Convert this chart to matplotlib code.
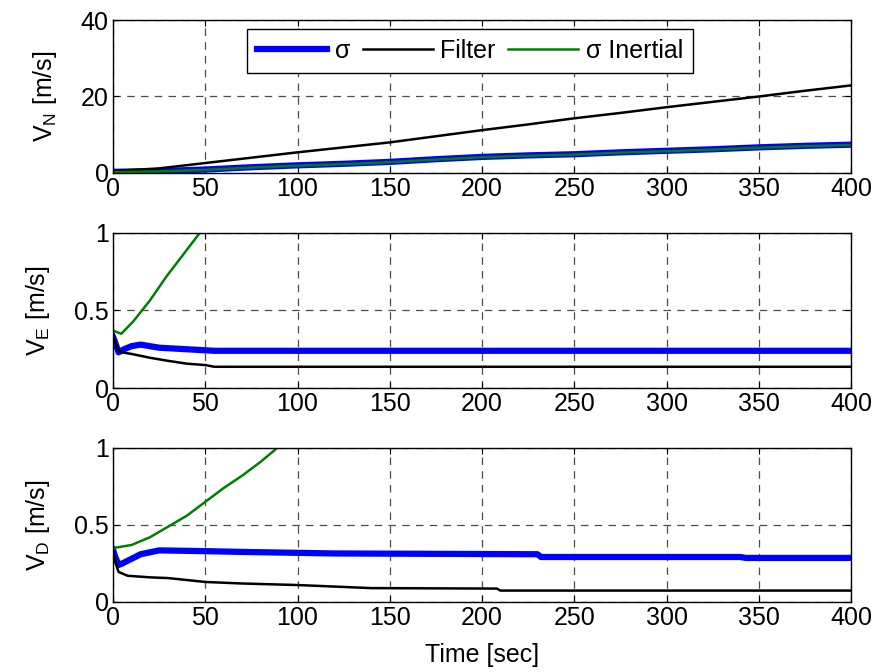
import matplotlib
matplotlib.use("Agg")
import matplotlib.pyplot as plt

plt.rcParams['font.family'] = ['Liberation Sans', 'DejaVu Sans']
plt.rcParams['mathtext.default'] = 'regular'

# ---- data ----
# North velocity panel
t_n = [0, 25, 50, 75, 100, 125, 150, 175, 200, 225, 250, 275, 300, 325, 350, 375, 400]
vn_filter = [0.5, 1.2, 2.6, 4.0, 5.4, 6.7, 8.0, 9.6, 11.2, 12.7, 14.3, 15.7, 17.2, 18.6, 20.0, 21.5, 22.9]
vn_sigma = [0.3, 0.5, 0.9, 1.5, 2.0, 2.4, 2.9, 3.6, 4.2, 4.6, 4.9, 5.4, 5.8, 6.2, 6.7, 7.1, 7.4]
vn_inertial = [0.2, 0.4, 0.8, 1.4, 1.9, 2.3, 2.8, 3.5, 4.1, 4.5, 4.8, 5.3, 5.7, 6.1, 6.6, 7.0, 7.3]

# East velocity panel
t_e_sigma = [0, 1, 3, 6, 10, 15, 25, 40, 55, 400]
ve_sigma = [0.33, 0.30, 0.23, 0.25, 0.27, 0.28, 0.26, 0.25, 0.24, 0.24]
t_e_filter = [0, 1, 3, 5, 10, 20, 30, 40, 50, 55, 400]
ve_filter = [0.34, 0.30, 0.24, 0.23, 0.22, 0.195, 0.175, 0.157, 0.148, 0.137, 0.137]
t_e_inertial = [0, 4.5, 11, 20, 29, 38, 47, 50]
ve_inertial = [0.37, 0.35, 0.43, 0.565, 0.72, 0.86, 1.0, 1.05]

# Down velocity panel
t_d_sigma = [0, 1, 3, 5, 10, 15, 25, 50, 70, 120, 230, 232, 340, 343, 400]
vd_sigma = [0.34, 0.30, 0.24, 0.25, 0.28, 0.31, 0.335, 0.33, 0.325, 0.315, 0.31, 0.292, 0.292, 0.286, 0.286]
t_d_filter = [0, 1, 3, 8, 20, 30, 50, 70, 100, 120, 140, 208, 210, 400]
vd_filter = [0.33, 0.27, 0.195, 0.17, 0.16, 0.155, 0.13, 0.12, 0.11, 0.10, 0.09, 0.087, 0.074, 0.074]
t_d_inertial = [0, 10, 20, 30, 40, 50, 60, 70, 80, 89, 95]
vd_inertial = [0.35, 0.37, 0.42, 0.49, 0.56, 0.65, 0.74, 0.82, 0.91, 1.0, 1.06]

xticks = [0, 50, 100, 150, 200, 250, 300, 350, 400]
FS = 18

fig = plt.figure(figsize=(8.85, 6.72), dpi=100)
boxes = [(0.1277, 0.7426, 0.8339, 0.2276),
         (0.1277, 0.4226, 0.8339, 0.2307),
         (0.1277, 0.1042, 0.8339, 0.2292)]
axes = [fig.add_axes(b) for b in boxes]


def style(ax, ylim, yticks, ylabel):
    ax.set_xlim(0, 400)
    ax.set_ylim(*ylim)
    ax.set_xticks(xticks)
    ax.set_yticks(yticks)
    ax.grid(True, color='0.3', linestyle=(0, (6, 5)), linewidth=0.9)
    ax.tick_params(direction='in', top=True, right=True, labelsize=FS, length=4, pad=3)
    ax.set_ylabel(ylabel, fontsize=FS, labelpad=16)
    for s in ax.spines.values():
        s.set_linewidth(1.0)


ax = axes[0]
ax.plot(t_n, vn_sigma, color='blue', lw=4.5, label='σ')
ax.plot(t_n, vn_filter, color='black', lw=1.8, label='Filter')
ax.plot(t_n, vn_inertial, color='green', lw=1.8, label='σ Inertial')
style(ax, (0, 40), [0, 20, 40], 'V$_N$ [m/s]')
leg = ax.legend(loc='upper center', bbox_to_anchor=(0.484, 0.94), ncol=3, fontsize=FS,
                fancybox=False, edgecolor='black', framealpha=1,
                handlelength=2.8, handletextpad=0.3, columnspacing=0.5,
                borderpad=0.4, borderaxespad=0)
leg.get_frame().set_linewidth(1.0)

ax = axes[1]
ax.plot(t_e_sigma, ve_sigma, color='blue', lw=4.5)
ax.plot(t_e_filter, ve_filter, color='black', lw=1.8)
ax.plot(t_e_inertial, ve_inertial, color='green', lw=1.8)
style(ax, (0, 1), [0, 0.5, 1], 'V$_E$ [m/s]')
ax.set_yticklabels(['0', '0.5', '1'])

ax = axes[2]
ax.plot(t_d_sigma, vd_sigma, color='blue', lw=4.5)
ax.plot(t_d_filter, vd_filter, color='black', lw=1.8)
ax.plot(t_d_inertial, vd_inertial, color='green', lw=1.8)
style(ax, (0, 1), [0, 0.5, 1], 'V$_D$ [m/s]')
ax.set_yticklabels(['0', '0.5', '1'])
ax.set_xlabel('Time [sec]', fontsize=FS, labelpad=9)

fig.savefig('out.png', dpi=100)
